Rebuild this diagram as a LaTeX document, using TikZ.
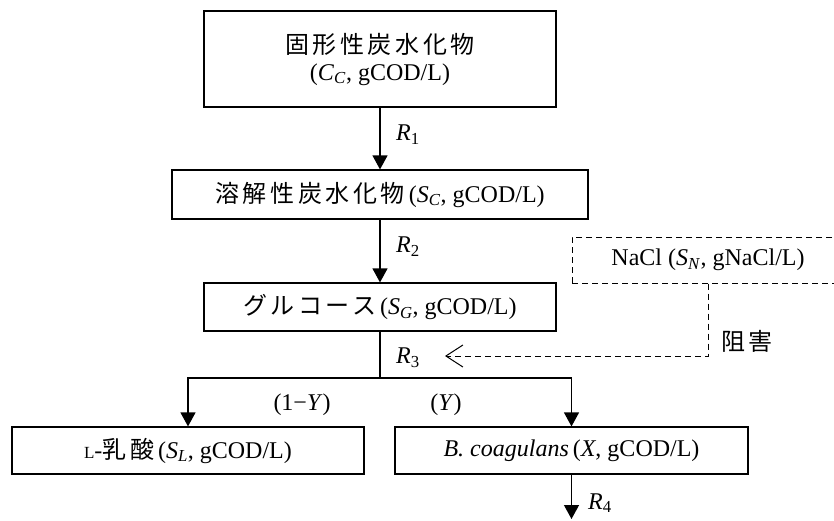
\documentclass[tikz,border=0pt]{standalone}
\usepackage{fontspec}
\setmainfont{Liberation Serif}
\newfontfamily\jpfont[LetterSpace=15]{Noto Sans CJK JP}
\usetikzlibrary{arrows.meta}
\newcommand{\qty}[2]{\textit{#1}\textsubscript{\textit{#2}}}

\begin{document}
\begin{tikzpicture}[x=1pt,y=-1pt,
  box/.style={draw,line width=1.2pt,inner sep=0pt,align=center,
              font=\fontsize{24}{27}\selectfont},
  dbox/.style={box,line width=1pt,dash pattern=on 6pt off 4pt},
  arr/.style={line width=1.2pt,-{Triangle[length=14pt,width=15pt]}},
  link/.style={line width=1.2pt},
  inh/.style={line width=1pt,dash pattern=on 6pt off 4pt,
              -{Straight Barb[length=17pt,width=22pt,line width=1pt]}},
  lbl/.style={inner sep=0pt,font=\fontsize{24}{27}\selectfont}]
\useasboundingbox (0,0) rectangle (834,520);
\clip (0,0) rectangle (834,520);

%carbon chain
\node[box,minimum width=352pt,minimum height=96pt] (solid) at (380,59)
  {{\jpfont 固形性炭水化物}\\(\qty{C}{C}, gCOD/L)};
\node[box,minimum width=416pt,minimum height=49pt] (soluble) at (380,194.5)
  {{\jpfont 溶解性炭水化物}\,(\qty{S}{C}, gCOD/L)};
\node[box,minimum width=352pt,minimum height=48pt] (glucose) at (380,307)
  {{\jpfont グルコース}\,(\qty{S}{G}, gCOD/L)};

%inhibitor
\node[dbox,minimum width=272pt,minimum height=46pt] (nacl) at (708,260)
  {NaCl (\qty{S}{N}, gNaCl/L)};

%products
\node[box,minimum width=352pt,minimum height=47pt] (lactic) at (188,450.5)
  {{\fontsize{17}{17}\selectfont L}-{\jpfont 乳酸}\,(\qty{S}{L}, gCOD/L)};
\node[box,minimum width=353pt,minimum height=47pt] (cell) at (571.5,450.5)
  {\textit{B. coagulans}\,(\textit{X}, gCOD/L)};

\coordinate (split) at (380,378);
\coordinate (sink) at (571.5,519);
\coordinate (hit) at (445,356);

\draw[arr] (solid) -- (soluble);
\draw[arr] (soluble) -- (glucose);
\draw[link] (glucose) -- (split);
\draw[arr] (split) -| (lactic);
\draw[arr] (split) -| (cell);
\draw[arr] (cell) -- (sink);
\draw[inh] (nacl) |- (hit);

%rates and yields
\node[lbl,anchor=west] (r1) at (396,135) {\textit{R}\textsubscript{1}};
\node[lbl,anchor=west] (r2) at (396,247) {\textit{R}\textsubscript{2}};
\node[lbl,anchor=west] (r3) at (396,358) {\textit{R}\textsubscript{3}};
\node[lbl,anchor=west] (r4) at (588,503) {\textit{R}\textsubscript{4}};
\node[lbl] (ylac) at (302,405) {(1\textminus\textit{Y})};
\node[lbl] (ycell) at (446,405) {(\textit{Y})};
\node[lbl] (inhlbl) at (747,341) {\jpfont 阻害};

\end{tikzpicture}
\end{document}
